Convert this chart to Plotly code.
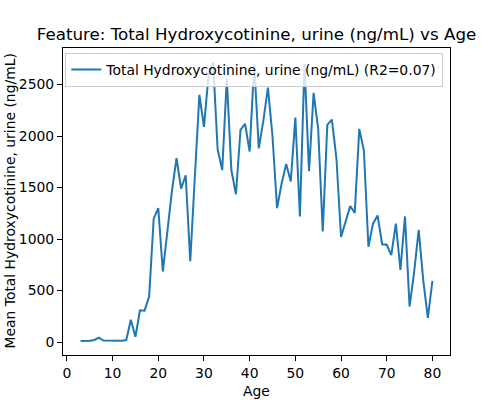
import plotly.graph_objects as go

ages = list(range(3, 81))
values = [
    10, 10, 12, 20, 42, 15, 15, 10, 12, 12, 20,        # 3-13
    217, 52, 308, 305, 442, 1198, 1300, 685,           # 14-21
    1080, 1470, 1785, 1490, 1620, 785, 1600, 2400,     # 22-29
    2090, 2590, 2720, 1870, 1670, 2560, 1670, 1435,    # 30-37
    2060, 2120, 1850, 2700, 1880, 2150, 2470, 2001,    # 38-45
    1300, 1540, 1730, 1560, 2180, 1220, 2700, 1660,    # 46-53
    2420, 2070, 1075, 2110, 2160, 1780, 1020, 1170,    # 54-61
    1320, 1255, 2070, 1860, 925, 1150, 1230, 950,      # 62-69
    945, 845, 1150, 700, 1220, 345, 680, 1090,         # 70-77
    600, 235, 595,                                     # 78-80
]
series_name = "Total Hydroxycotinine, urine (ng/mL) (R2=0.07)"
title_text = "Feature: Total Hydroxycotinine, urine (ng/mL) vs Age"
x_title = "Age"
y_title = "Mean Total Hydroxycotinine, urine (ng/mL)"
x_ticks = [0, 10, 20, 30, 40, 50, 60, 70, 80]
y_ticks = [0, 500, 1000, 1500, 2000, 2500]

FONT = "DejaVu Sans"
FS = 13.9
L, R, T, B = 63, 50, 48, 45
PW, PH = 500 - L - R, 400 - T - B

fig = go.Figure()
fig.add_trace(go.Scatter(
    x=ages, y=values, mode="lines", name=series_name,
    line=dict(color="#1f77b4", width=2), showlegend=True,
))

xr = (min(ages), max(ages))
xpad = 0.05 * (xr[1] - xr[0])
yr = (min(values), max(values))
ypad = 0.05 * (yr[1] - yr[0])

axis_common = dict(
    showline=True, linecolor="black", linewidth=1, mirror=True,
    ticks="outside", ticklen=5, tickcolor="black", tickwidth=1,
    showgrid=False, zeroline=False, automargin=False,
    tickfont=dict(family=FONT, size=FS, color="black"),
)

fig.update_layout(
    width=500, height=400,
    margin=dict(l=L, r=R, t=T, b=B, autoexpand=False),
    paper_bgcolor="white", plot_bgcolor="white",
    font=dict(family=FONT, color="black"),
    title=dict(text=title_text, x=(L + PW / 2) / 500, xanchor="center", y=1 - 34 / 400,
               yanchor="middle", font=dict(family=FONT, size=16.7, color="black")),
    xaxis=dict(range=[xr[0] - xpad, xr[1] + xpad], tickvals=x_ticks, **axis_common),
    yaxis=dict(range=[yr[0] - ypad, yr[1] + ypad], tickvals=y_ticks, **axis_common),
    legend=dict(x=0.006, y=0.984, xanchor="left", yanchor="top",
                bgcolor="rgba(255,255,255,0.8)", bordercolor="#cccccc", borderwidth=1,
                font=dict(family=FONT, size=FS, color="black"),
                itemwidth=30),
    annotations=[
        dict(text=x_title, xref="paper", yref="paper", x=0.5, y=-(391 - 355) / PH,
             xanchor="center", yanchor="middle", showarrow=False,
             font=dict(family=FONT, size=FS, color="black")),
        dict(text=y_title, xref="paper", yref="paper", x=-(L - 9) / PW, y=0.5,
             xanchor="center", yanchor="middle", textangle=-90, showarrow=False,
             font=dict(family=FONT, size=FS, color="black")),
    ],
)

fig.write_html("out.html", config={"displayModeBar": False},
               post_script="document.body.style.margin='0px';")
